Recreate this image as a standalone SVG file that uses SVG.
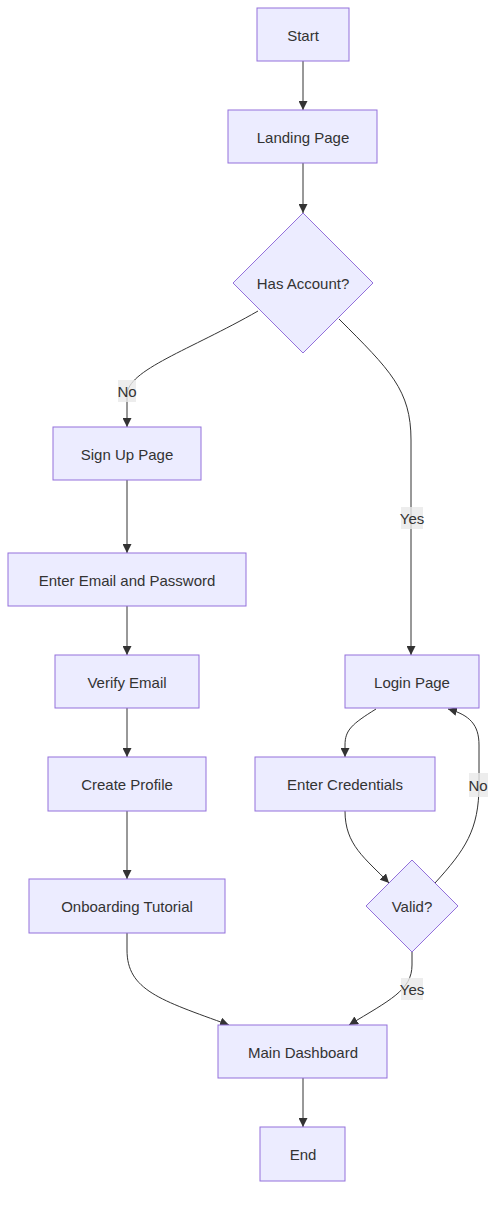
<svg xmlns="http://www.w3.org/2000/svg" width="504" height="1208" viewBox="0 0 504 1208">
<style>
.node rect,.node polygon{fill:#ECECFF;stroke:#9370DB;stroke-width:1}
.node text{font-family:"Liberation Sans",Arial,sans-serif;font-size:15px;fill:#333;text-anchor:middle;dominant-baseline:central}
.edge{fill:none;stroke:#333;stroke-width:1}
.lbl rect{fill:#e8e8e8;opacity:0.8}
.lbl text{font-family:"Liberation Sans",Arial,sans-serif;font-size:15px;fill:#333;text-anchor:middle;dominant-baseline:central}
</style>
<defs>
<marker id="arr" viewBox="0 0 10 10" refX="10" refY="5" markerUnits="userSpaceOnUse" markerWidth="9" markerHeight="9" orient="auto">
<path d="M0,0 L10,5 L0,10 z" fill="#333"/>
</marker>
</defs>
<rect width="504" height="1208" fill="#fff"/>
<g id="connectors">
<path class="edge" d="M303,61 L303,110" marker-end="url(#arr)"/>
<path class="edge" d="M303,163 L303,213" marker-end="url(#arr)"/>
<path class="edge" d="M258,311 C190,350 127,370 127,395 L127,427" marker-end="url(#arr)"/>
<path class="edge" d="M339,319 C390,370 411,390 411,440 L411,655" marker-end="url(#arr)"/>
<path class="edge" d="M127,480 L127,553" marker-end="url(#arr)"/>
<path class="edge" d="M127,606 L127,655" marker-end="url(#arr)"/>
<path class="edge" d="M127,708 L127,757" marker-end="url(#arr)"/>
<path class="edge" d="M127,811 L127,879" marker-end="url(#arr)"/>
<path class="edge" d="M376,709 C352,724 345,730 345,745 L345,757" marker-end="url(#arr)"/>
<path class="edge" d="M345,811 C345,845 365,858 389,883" marker-end="url(#arr)"/>
<path class="edge" d="M435,883 C465,850 479,830 479,785 L479,745 C479,725 470,715 448,709" marker-end="url(#arr)"/>
<path class="edge" d="M412,952 L412,965 C412,990 390,1000 349,1025" marker-end="url(#arr)"/>
<path class="edge" d="M127,933 L127,950 C127,990 160,1000 229,1025" marker-end="url(#arr)"/>
<path class="edge" d="M303,1078 L303,1127" marker-end="url(#arr)"/>
<g class="lbl"><rect x="118" y="380" width="18" height="22"/><text x="127" y="391">No</text></g>
<g class="lbl"><rect x="401" y="507" width="22" height="22"/><text x="412" y="518">Yes</text></g>
<g class="lbl"><rect x="469" y="773" width="19" height="24"/><text x="478" y="785">No</text></g>
<g class="lbl"><rect x="401" y="978" width="22" height="22"/><text x="412" y="989">Yes</text></g>
</g>
<g id="start" class="node"><rect x="257" y="8" width="92" height="53"/><text x="303" y="35">Start</text></g>
<g id="landing" class="node"><rect x="228" y="110" width="149" height="53"/><text x="303" y="137">Landing Page</text></g>
<g id="hasAccount" class="node"><polygon points="303,213 373,283 303,353 233,283"/><text x="303" y="283">Has Account?</text></g>
<g id="signUp" class="node"><rect x="53" y="427" width="148" height="53"/><text x="127" y="454">Sign Up Page</text></g>
<g id="enterEmail" class="node"><rect x="8" y="553" width="238" height="53"/><text x="127" y="580">Enter Email and Password</text></g>
<g id="verifyEmail" class="node"><rect x="55" y="655" width="144" height="53"/><text x="127" y="682">Verify Email</text></g>
<g id="createProfile" class="node"><rect x="48" y="757" width="158" height="54"/><text x="127" y="784">Create Profile</text></g>
<g id="onboarding" class="node"><rect x="29" y="879" width="196" height="54"/><text x="127" y="906">Onboarding Tutorial</text></g>
<g id="login" class="node"><rect x="345" y="655" width="134" height="53"/><text x="412" y="682">Login Page</text></g>
<g id="enterCred" class="node"><rect x="255" y="757" width="180" height="54"/><text x="345" y="784">Enter Credentials</text></g>
<g id="valid" class="node"><polygon points="412,860 458,906 412,952 366,906"/><text x="412" y="906">Valid?</text></g>
<g id="mainDashboard" class="node"><rect x="218" y="1025" width="169" height="53"/><text x="303" y="1052">Main Dashboard</text></g>
<g id="end" class="node"><rect x="260" y="1127" width="85" height="54"/><text x="303" y="1154">End</text></g>
</svg>
